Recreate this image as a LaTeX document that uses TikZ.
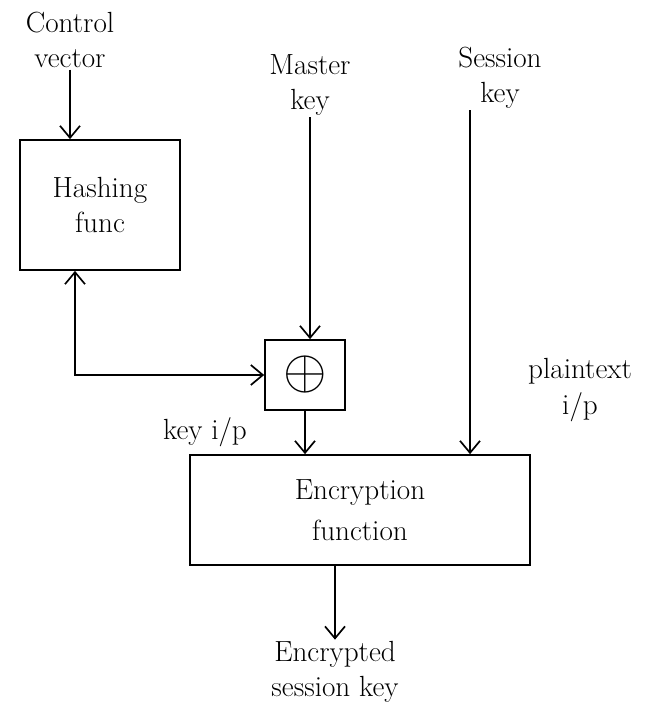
\documentclass[tikz,border=0pt]{standalone}
\usepackage{tikz}
\usetikzlibrary{arrows.meta, positioning, calc}

\tikzset{
  blockbox/.style={draw, line width=1.2pt, inner sep=0pt, align=center, font=\huge},
  lbl/.style={font=\huge, align=center, inner sep=1pt},
  flow/.style={line width=1.2pt, -{Straight Barb[length=3mm,width=5mm]}},
  twoflow/.style={line width=1.2pt, {Straight Barb[length=3mm,width=5mm]}-{Straight Barb[length=3mm,width=5mm]}},
}

\begin{document}
\begin{tikzpicture}[x=0.025cm,y=-0.025cm]
\useasboundingbox (0,0) rectangle (660,720);
% inputs
\node[lbl] (ctrl) at (70,40) {Control\\vector};
\node[lbl] (master) at (310,85) {Master\\key};
\node[lbl] (session) at (500,78) {Session\\key};
% blocks
\node[blockbox, minimum width=4cm, minimum height=3.25cm] (hash) at (100,205) {Hashing\\func};
\node[blockbox, minimum width=2cm, minimum height=1.75cm] (xor) at (305,375) {\scalebox{1.6}{\Huge$\oplus$}};
\node[blockbox, minimum width=8.5cm, minimum height=2.75cm] (enc) at (360,510) {Encryption\\[4pt]function};
% labels
\node[lbl] (keyip) at (205,432) {key i/p};
\node[lbl] (plain) at (580,390) {plaintext\\i/p};
\node[lbl] (out) at (335,672) {Encrypted\\session key};
% connectors
\draw[flow] (ctrl.south) -- (ctrl.south |- hash.north);
\draw[flow] (master.south) -- (master.south |- xor.north);
\draw[flow] ($(session.south)+(-30,0)$) -- ($(session.south |- enc.north)+(-30,0)$);
\draw[twoflow] ($(hash.south)+(-25,0)$) |- (xor.west);
\draw[flow] (xor.south) -- (xor.south |- enc.north);
\draw[flow] (enc.south -| out) -- (out.north);
\end{tikzpicture}
\end{document}
